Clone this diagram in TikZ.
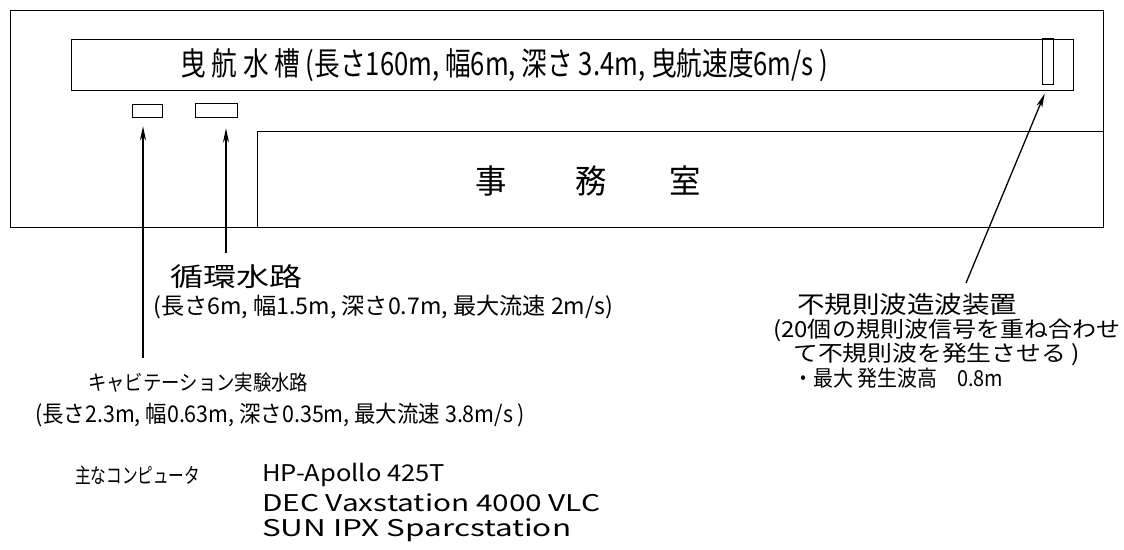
\documentclass[tikz,border=0pt]{standalone}
\usepackage{fontspec}
\setmainfont{Noto Sans CJK JP}
\usetikzlibrary{arrows.meta}
\newsavebox\fitsb
\newcommand\fitw[3]{{\fontsize{#2}{#2}\selectfont\sbox\fitsb{#3}\pgfmathsetmacro\fitsx{#1/\the\wd\fitsb}\scalebox{\fitsx}[1]{\usebox\fitsb}}}
\begin{document}
\begin{tikzpicture}[x=1pt,y=-1pt,
  part/.style={draw=black,line width=1.3pt,inner sep=0pt,anchor=north west},
  lbl/.style={inner sep=0pt,anchor=west,text=black},
  arr/.style={line width=1.3pt,-{Stealth[length=14pt,width=6pt,inset=4pt]}}]
\useasboundingbox (0,0) rectangle (1124,549);
% outer frame and office
\node[part,minimum width=1093pt,minimum height=217pt] (frame) at (10,10) {};
\node[part,minimum width=846pt,minimum height=96pt] (office) at (257,131) {};
% towing tank
\node[part,minimum width=1002pt,minimum height=51pt] (tank) at (71,39) {};
\node[part,minimum width=11pt,minimum height=46pt] (wm) at (1042,38) {};
% small channels
\node[part,minimum width=30pt,minimum height=13pt] (r1) at (132,104) {};
\node[part,minimum width=42pt,minimum height=14pt] (r2) at (195,103) {};
% texts
\node[lbl] (tanktxt) at (180,65) {\fitw{648}{32}{曳 航 水 槽 (長さ160m, 幅6m, 深さ 3.4m, 曳航速度6m/s )}};
\node[lbl] (offtxt) at (475,181) {\fitw{226}{33}{事\hspace{2.2em}務\hspace{2em}室}};
\node[lbl] (circ) at (170,277) {\fitw{132}{26}{循環水路}};
\node[lbl] (circd) at (153,307) {\fitw{460}{23}{(長さ6m, 幅1.5m, 深さ0.7m, 最大流速 2m/s)}};
\node[lbl] (cav) at (88,383) {\fitw{220}{21}{キャビテーション実験水路}};
\node[lbl] (cavd) at (35,415) {\fitw{490}{23}{(長さ2.3m, 幅0.63m, 深さ0.35m, 最大流速 3.8m/s )}};
\node[lbl] (comp) at (75,475) {\fitw{125}{21}{主なコンピュータ}};
\node[lbl] (c1) at (262,475) {\fitw{183}{23}{HP-Apollo 425T}};
\node[lbl] (c2) at (262,503) {\fitw{338}{23}{DEC Vaxstation 4000 VLC}};
\node[lbl] (c3) at (262,530) {\fitw{309}{23}{SUN IPX Sparcstation}};
\node[lbl] (wv1) at (797,304) {\fitw{220}{24}{不規則波造波装置}};
\node[lbl] (wv2) at (773,330) {\fitw{347}{22}{(20個の規則波信号を重ね合わせ}};
\node[lbl] (wv3) at (793,354) {\fitw{287}{22}{て不規則波を発生させる )}};
\node[lbl] (wv4) at (793,378) {\fitw{210}{22}{・最大 発生波高\hspace{1em}0.8m}};
% connectors
\coordinate (a1) at (143,358);
\coordinate (a2) at (226,253);
\coordinate (a3) at (966,283);
\draw[arr,shorten >=8pt] (a1) -- (a1 |- r1.south);
\draw[arr,shorten >=10pt] (a2) -- (a2 |- r2.south);
\draw[arr,shorten >=9pt] (a3) -- (wm.south);
\end{tikzpicture}
\end{document}
